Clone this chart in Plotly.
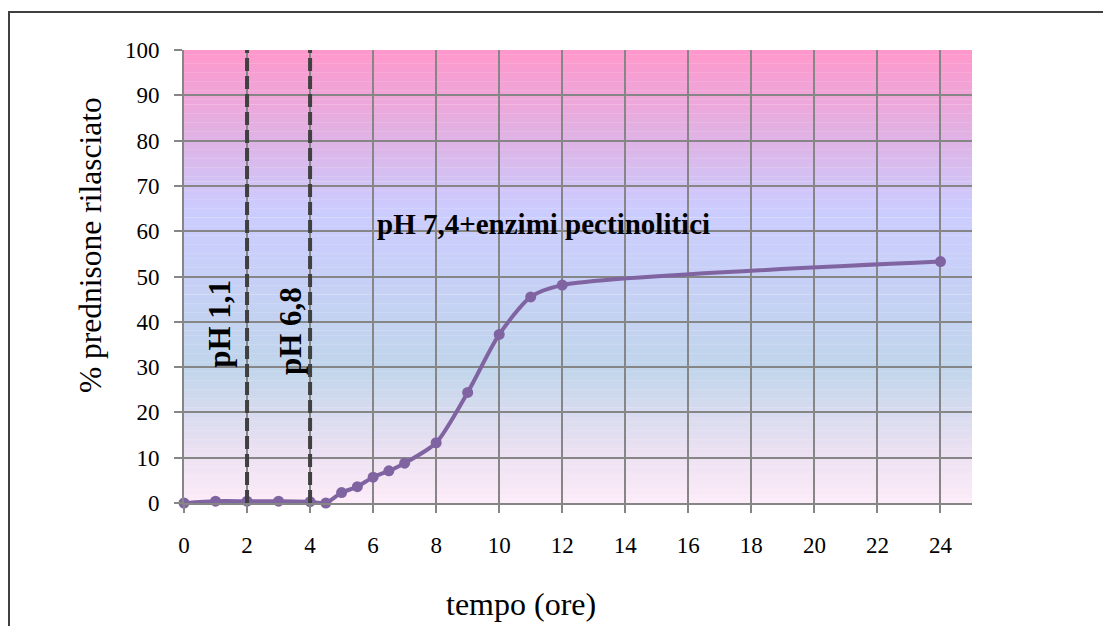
import plotly.graph_objects as go

# ---- data ----
tempo = [0, 1, 2, 3, 4, 4.5, 5, 5.5, 6, 6.5, 7, 8, 9, 10, 11, 12, 24]
rilasciato = [0, 0.4, 0.4, 0.4, 0.3, 0.0, 2.3, 3.6, 5.7, 7.1, 8.8, 13.3, 24.4, 37.2, 45.5, 48.1, 53.3]
phase_boundaries = [2, 4]
x_ticks = list(range(0, 25, 2))
y_ticks = list(range(0, 101, 10))

# gradient stops for plot background (value, colour)
grad_stops = [
    (0, (253, 235, 248)),
    (12, (234, 224, 242)),
    (30, (192, 213, 235)),
    (65, (204, 204, 255)),
    (78, (220, 182, 232)),
    (100, (255, 151, 203)),
]

FONT = "Liberation Serif"


def interp_color(v):
    for (a, ca), (b, cb) in zip(grad_stops[:-1], grad_stops[1:]):
        if a <= v <= b:
            t = (v - a) / (b - a)
            c = [round(ca[i] + (cb[i] - ca[i]) * t) for i in range(3)]
            return "rgb(%d,%d,%d)" % tuple(c)
    return "rgb(%d,%d,%d)" % grad_stops[-1][1]


shapes = []
n_strips = 100
for i in range(n_strips):
    y0 = 100 * i / n_strips
    y1 = 100 * (i + 1) / n_strips
    shapes.append(dict(type="rect", xref="x domain", yref="y", x0=0, x1=1,
                       y0=y0, y1=y1 + 0.05, fillcolor=interp_color((y0 + y1) / 2),
                       line=dict(width=0), layer="below"))

# phase boundary dashed lines
for xb in phase_boundaries:
    shapes.append(dict(type="line", xref="x", yref="y", x0=xb, x1=xb, y0=0, y1=100,
                       line=dict(color="#404040", width=4, dash="13px,5px"), layer="above"))

# outer chart frame
shapes.append(dict(type="rect", xref="paper", yref="paper",
                   x0=(9 - 184) / 788, x1=(1200 - 184) / 788,
                   y0=(503 - 700) / 453, y1=(503 - 12) / 453,
                   line=dict(color="#404040", width=2), fillcolor="rgba(0,0,0,0)", layer="below"))

fig = go.Figure()
fig.add_trace(go.Scatter(
    x=tempo, y=rilasciato, mode="lines+markers",
    line=dict(color="#8064A2", width=4, shape="spline", smoothing=0.7),
    marker=dict(color="#8064A2", size=11),
    showlegend=False, cliponaxis=False,
))

annotations = [
    dict(x=11.4, y=61.6, xref="x", yref="y", text="<b>pH 7,4+enzimi pectinolitici</b>",
         showarrow=False, font=dict(family=FONT, size=29, color="black")),
    dict(x=1.1, y=39.5, xref="x", yref="y", text="<b>pH 1,1</b>", textangle=-90,
         showarrow=False, font=dict(family=FONT, size=31, color="black")),
    dict(x=3.4, y=38, xref="x", yref="y", text="<b>pH 6,8</b>", textangle=-90,
         showarrow=False, font=dict(family=FONT, size=31, color="black")),
    dict(x=(521 - 184) / 788, y=(503 - 604) / 453, xref="paper", yref="paper",
         xanchor="center", yanchor="middle",
         text="tempo (ore)", showarrow=False, font=dict(family=FONT, size=32, color="black")),
    dict(x=(90 - 184) / 788, y=(503 - 245) / 453, xref="paper", yref="paper",
         xanchor="center", yanchor="middle",
         text="% prednisone rilasciato", textangle=-90, showarrow=False,
         font=dict(family=FONT, size=31.5, color="black")),
]

fig.update_layout(
    width=1103, height=626,
    margin=dict(l=184, r=131, t=50, b=123),
    paper_bgcolor="white", plot_bgcolor="white",
    shapes=shapes, annotations=annotations,
    font=dict(family=FONT, color="black"),
)
fig.update_xaxes(range=[0, 25], tickvals=x_ticks, ticktext=[str(v) for v in x_ticks],
                 showgrid=True, gridcolor="#868686", gridwidth=2,
                 showline=True, linecolor="#868686", linewidth=2,
                 ticks="outside", ticklen=8, tickwidth=2, tickcolor="#868686",
                 ticklabelstandoff=12,
                 tickfont=dict(family=FONT, size=23, color="black"), zeroline=False)
fig.update_yaxes(range=[0, 100], tickvals=y_ticks, ticktext=[str(v) for v in y_ticks],
                 showgrid=True, gridcolor="#868686", gridwidth=2,
                 showline=True, linecolor="#868686", linewidth=2,
                 ticks="outside", ticklen=8, tickwidth=2, tickcolor="#868686",
                 ticklabelstandoff=10,
                 tickfont=dict(family=FONT, size=23, color="black"), zeroline=False)

fig.write_html("out.html")
